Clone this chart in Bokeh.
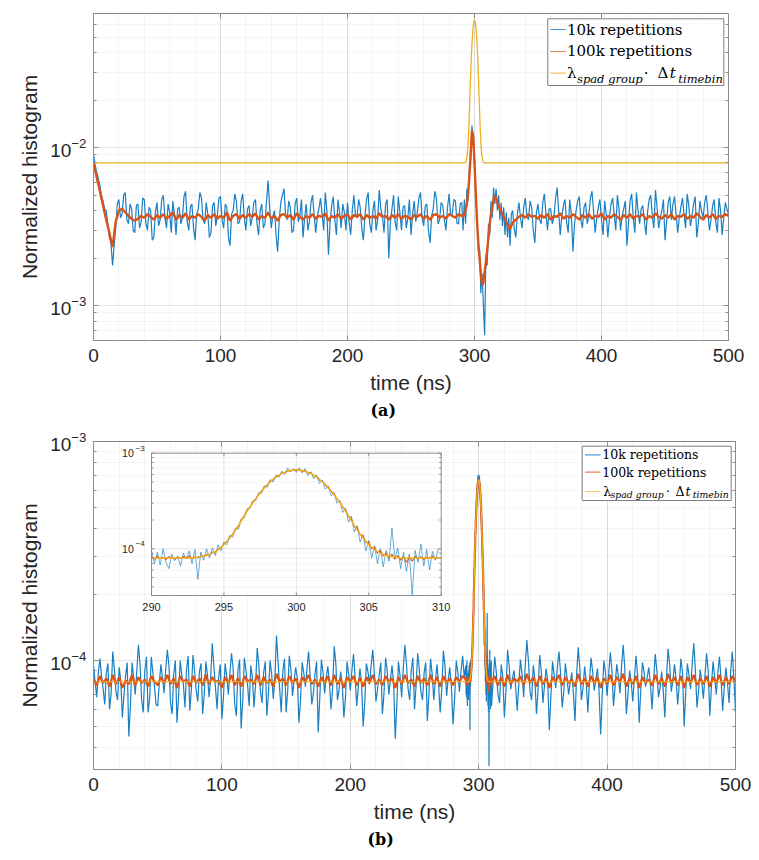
import numpy as np
from bokeh.core.properties import value
from bokeh.embed import file_html
from bokeh.layouts import column
from bokeh.models import (ColumnDataSource, CustomJSTickFormatter, FixedTicker,
                          LinearAxis, LogAxis, LogScale, Range1d)
from bokeh.plotting import figure
from bokeh.resources import INLINE

BLUE, ORANGE, YELLOW = "#0072BD", "#D95319", "#EDB120"
AX = "#8c8c8c"
GRID = "#262626"
TXT = "#262626"

# ---------------- data ----------------
# time bins (ns): coarse away from the pulse at 300 ns, finer around it
t_blue_a = np.concatenate([np.arange(232) * 1.25, 290 + np.arange(40) * 1.0, 330 + np.arange(137) * 1.25])
t_or_a = np.concatenate([np.arange(116) * 2.5, 290 + np.arange(40) * 1.0, 330 + np.arange(69) * 2.5])
t_blue_b = np.concatenate([np.arange(232) * 1.25, 290 + np.arange(100) * 0.2, 310 + np.arange(153) * 1.25])
t_or_b = np.concatenate([np.arange(116) * 2.5, 290 + np.arange(100) * 0.2, 310 + np.arange(77) * 2.5])
t_lam = np.concatenate([[0], 290 + np.arange(41) * 0.5, [500]])

# panel (a), values in units of 1e-4
blue_a_start = [90, 78, 70, 64, 58, 50, 46, 41, 40, 33, 27, 25, 18, 24, 31, 44, 47, 36, 38, 50,
                52, 35, 33, 44, 41, 30, 29, 43, 44, 31, 34, 48, 47, 33, 30, 42, 40, 26, 27, 39,
                45, 32, 35, 47, 50, 36, 31, 44, 39, 29, 46, 38, 28, 41, 42, 33, 36, 49, 53, 34,
                30, 42, 44, 31, 26, 38, 41, 52, 48, 35, 33, 45, 38, 27, 29, 43, 45, 32, 37, 48,
                49, 35, 31, 44, 42, 27, 24, 38, 40, 51, 46, 33, 34, 46, 51, 36, 30, 41, 43, 32,
                36, 45, 47, 33, 28, 40, 44, 31, 33, 46, 62, 41, 31, 37, 40, 28, 22, 35, 45, 50,
                55, 38, 35, 46, 42, 29, 30, 44, 48, 34, 37, 47, 27, 36, 44, 30, 34, 45, 50, 37,
                29, 37, 41, 48, 38, 30, 52, 40, 21, 33, 43, 49, 35, 28, 47, 39, 31, 44, 39, 30,
                45, 34, 28, 40, 50, 38, 36, 47, 42, 31, 26, 37, 47, 52, 33, 29, 40, 46, 30, 35,
                54, 41, 37, 29, 44, 47, 20, 33, 41, 50, 34, 30, 49, 39, 30, 42, 43, 31, 36, 47,
                28, 38, 46, 34, 39, 48, 52, 36, 32, 43, 44, 30, 25, 37, 41, 53, 48, 33, 35, 45,
                43, 35, 30, 42, 51, 37, 38, 47, 46, 33, 33, 44]
blue_a_pulse = [45, 30, 47, 33, 55, 46, 74, 85, 138, 112,
                88, 46, 38, 22, 23, 12, 16, 10, 6.5, 21,
                18, 33, 28, 46, 36, 56, 44, 55, 40, 50,
                35, 45, 32, 42, 28, 39, 27, 36, 24, 38]
blue_a_end = [40, 31, 27, 38, 45, 36, 31, 42, 48, 37, 35, 46, 42, 30, 25, 39, 44, 35, 33, 45,
              51, 38, 30, 41, 41, 33, 36, 47, 56, 40, 28, 37, 43, 47, 34, 29, 47, 38, 22, 33,
              40, 46, 49, 35, 31, 42, 45, 33, 37, 48, 53, 40, 29, 36, 42, 47, 35, 28, 46, 38,
              27, 36, 44, 48, 38, 30, 50, 41, 30, 37, 41, 46, 24, 33, 46, 51, 36, 29, 52, 40,
              33, 41, 43, 35, 28, 39, 47, 50, 37, 31, 54, 42, 31, 36, 40, 47, 26, 34, 45, 49,
              35, 44, 49, 38, 29, 36, 42, 48, 38, 31, 51, 43, 32, 37, 44, 49, 27, 33, 46, 40,
              36, 45, 50, 39, 30, 35, 43, 47, 34, 29, 48, 40, 28, 36, 45, 41, 38]
orange_a_start = [80, 65, 53, 43, 35, 29, 23.5, 34, 40, 41,
                  39, 37, 35.5, 34.5, 35.5, 37, 36, 38, 36.5, 35,
                  37.5, 36, 38, 35.5, 37, 39, 35, 37.5, 36, 38.5,
                  35, 37, 36, 38, 36.5, 34.5, 37.5, 36, 38, 35.5,
                  37, 36, 39, 34.5, 37, 38, 35.5, 37.5, 36, 38,
                  36.5, 38.5, 35, 37, 36, 39, 35.5, 37, 34.5, 37.5,
                  38, 36, 37.5, 35, 38.5, 36.5, 35, 37, 36, 38,
                  35.5, 37, 36.5, 38.5, 34.5, 37, 36, 38, 35.5, 37,
                  38, 35, 37.5, 36.5, 38, 35, 37.5, 36, 37, 35.5,
                  38.5, 36.5, 37, 35, 37.5, 36, 38, 35.5, 37, 36.5,
                  35, 37.5, 36.5, 38, 35.5, 37, 35, 37.5, 38, 36,
                  37, 35.5, 38, 37, 36, 38]
orange_a_pulse = [37, 36.5, 38, 40, 44, 52, 66, 92, 128, 118,
                  80, 52, 34, 25, 20, 16, 13.5, 14, 16.5, 19,
                  22.5, 27, 33, 38, 42, 47, 50, 48, 45, 42.5,
                  41, 39.5, 38, 36.5, 35, 34, 32.5, 31, 30.5, 32]
orange_a_end = [33.5, 35, 36.5, 37.5, 36, 38, 36.5, 37, 35.5, 37.5,
                36, 38, 35, 37, 36.5, 38.5, 35.5, 37, 36, 38,
                36.5, 35, 37.5, 36, 38, 35.5, 37, 36.5, 38.5, 35,
                37, 36, 38, 36.5, 35, 37.5, 36, 38, 35.5, 37,
                36.5, 38, 35, 37, 36, 38.5, 36.5, 35.5, 37.5, 36,
                38, 35, 37, 36.5, 38, 35.5, 37, 36, 38.5, 36.5,
                35, 37.5, 36, 38, 35.5, 37, 36.5, 38, 37]
lam_a = [80,
         80, 80, 80, 80, 80, 80,
         81, 83, 87, 94, 108, 132, 170, 225, 295, 370, 450, 525, 590, 628,
         640,
         628, 590, 525, 450, 370, 295, 225, 170, 132, 108, 94, 87, 83, 81,
         80, 80, 80, 80, 80, 80,
         80]

# panel (b), values in units of 1e-6
blue_b_start = [95, 80, 68, 88, 102, 85, 74, 63, 88, 97, 60, 71, 110, 92, 72, 66, 93, 81, 55, 70,
                85, 98, 45, 62, 98, 84, 70, 90, 118, 96, 66, 58, 90, 104, 58, 67, 104, 88, 76, 63,
                62, 79, 96, 83, 71, 92, 112, 95, 64, 57, 87, 100, 52, 68, 100, 86, 78, 61, 92, 105,
                59, 74, 106, 89, 73, 65, 89, 97, 57, 70, 99, 86, 68, 83, 120, 94, 75, 60, 84, 96,
                54, 69, 97, 85, 70, 88, 108, 92, 63, 56, 91, 101, 49, 66, 103, 90, 77, 62, 95, 84,
                61, 78, 114, 96, 72, 64, 88, 99, 56, 71, 100, 87, 67, 82, 130, 99, 74, 58, 90, 102,
                58, 73, 105, 91, 69, 81, 93, 83, 52, 66, 98, 88, 76, 92, 110, 85, 63, 71, 87, 99,
                47, 68, 101, 88, 71, 84, 94, 79, 60, 75, 116, 97, 66, 73, 89, 77, 55, 68, 99, 86,
                73, 90, 107, 84, 62, 76, 92, 80, 50, 64, 97, 89, 78, 95, 112, 87, 65, 74, 86, 98,
                57, 71, 103, 90, 70, 82, 95, 79, 44, 63, 99, 85, 68, 92, 118, 96, 74, 66, 91, 103,
                60, 77, 108, 91, 72, 66, 88, 98, 53, 70, 102, 87, 66, 80, 96, 78, 58, 74, 111, 94,
                69, 82, 93, 75, 51, 67, 100, 88, 72, 90, 105, 84]
blue_b_pulse = [95, 70, 92, 68, 100, 72, 62, 88, 75, 84,
                66, 90, 78, 95, 70, 98, 48, 92, 76, 100,
                80, 102, 85, 110, 96, 118, 110, 138, 132, 162,
                160, 205, 210, 262, 265, 318, 322, 385, 380, 455,
                440, 530, 500, 590, 560, 650, 600, 700, 640, 690,
                630, 705, 620, 690, 580, 640, 540, 590, 480, 520,
                420, 455, 360, 385, 300, 320, 240, 265, 190, 220,
                150, 175, 118, 140, 95, 122, 80, 108, 70, 100,
                65, 96, 74, 165, 78, 102, 62, 92, 58, 88,
                33, 96, 72, 112, 66, 98, 60, 94, 76, 100]
blue_b_end = [62, 81, 104, 88, 70, 64, 96, 85, 55, 73, 112, 94, 74, 83, 90, 76, 59, 78, 101, 87,
              68, 95, 124, 99, 72, 66, 95, 82, 57, 74, 106, 90, 64, 77, 92, 81, 48, 69, 99, 86,
              75, 93, 110, 88, 61, 72, 97, 84, 70, 79, 88, 71, 53, 86, 115, 92, 66, 75, 94, 80,
              58, 80, 103, 89, 73, 82, 92, 72, 46, 71, 100, 88, 69, 87, 109, 90, 62, 77, 96, 85,
              71, 94, 118, 93, 57, 70, 90, 80, 65, 83, 105, 86, 52, 74, 98, 89, 76, 84, 93, 78,
              60, 82, 107, 90, 68, 75, 89, 73, 55, 84, 113, 95, 72, 81, 96, 82, 63, 79, 102, 88,
              50, 72, 97, 86, 74, 96, 120, 91, 61, 73, 91, 80, 67, 86, 108, 89, 56, 76, 99, 85,
              70, 88, 104, 82, 59, 75, 93, 79, 64, 89, 110, 83, 58]
orange_b_start = [82, 77, 85, 79, 83, 76, 86, 78, 84, 75,
                  81, 78, 86, 77, 84, 79, 82, 76, 85, 80,
                  77, 84, 79, 86, 78, 83, 75, 85, 80, 82,
                  76, 85, 79, 83, 77, 86, 78, 84, 80, 81,
                  75, 84, 79, 86, 77, 83, 76, 85, 80, 82,
                  78, 86, 77, 84, 79, 82, 76, 87, 80, 83,
                  77, 85, 79, 83, 75, 84, 80, 86, 78, 82,
                  76, 84, 79, 85, 77, 86, 78, 83, 75, 84,
                  80, 85, 77, 83, 76, 84, 79, 86, 78, 82,
                  77, 85, 80, 83, 75, 84, 78, 86, 79, 82,
                  76, 85, 79, 83, 77, 86, 78, 84, 76, 85,
                  79, 83, 77, 84, 80, 85]
orange_b_pulse = [82, 78, 84, 79, 81, 77, 83, 80, 78, 82,
                  79, 83, 80, 84, 79, 82, 80, 84, 83, 87,
                  86, 92, 92, 99, 103, 112, 118, 132, 141, 162,
                  172, 203, 220, 254, 272, 312, 332, 376, 396, 445,
                  462, 510, 528, 572, 582, 625, 625, 655, 650, 672,
                  660, 672, 648, 655, 622, 625, 580, 572, 525, 510,
                  462, 445, 395, 378, 330, 312, 272, 255, 218, 205,
                  170, 165, 140, 138, 116, 118, 100, 104, 90, 96,
                  84, 90, 80, 88, 78, 85, 76, 83, 72, 82,
                  74, 84, 78, 83, 77, 82, 79, 84, 78, 82]
orange_b_end = [79, 85, 77, 84, 76, 86, 78, 83, 80, 85,
                77, 87, 79, 84, 76, 85, 78, 83, 75, 84,
                80, 86, 77, 84, 79, 82, 76, 87, 78, 83,
                76, 85, 79, 84, 75, 83, 78, 86, 77, 84,
                80, 87, 76, 83, 78, 85, 75, 84, 79, 82,
                77, 86, 78, 83, 76, 87, 79, 84, 77, 85,
                75, 84, 79, 86, 77, 83, 78, 85, 76, 84,
                79, 86, 77, 84, 78, 85, 80]
lam_b = [80,
         80, 80, 80, 80, 80, 80,
         81, 83, 87, 95, 110, 135, 175, 235, 305, 385, 470, 550, 615, 655,
         670,
         655, 615, 550, 470, 385, 305, 235, 175, 135, 110, 95, 87, 83, 81,
         80, 80, 80, 80, 80, 80,
         80]

legend_labels = ["10k repetitions", "100k repetitions"]
x_major = [0, 100, 200, 300, 400, 500]
x_minor = list(range(0, 501, 20))
y_minor_all = [k * 10.0 ** e for e in range(-6, 0) for k in range(2, 10)]

blue_a_src = ColumnDataSource(dict(t=t_blue_a, y=np.array(blue_a_start + blue_a_pulse + blue_a_end) * 1e-4))
or_a_src = ColumnDataSource(dict(t=t_or_a, y=np.array(orange_a_start + orange_a_pulse + orange_a_end) * 1e-4))
blue_b_y = np.array(blue_b_start + blue_b_pulse + blue_b_end) * 1e-6
or_b_y = np.array(orange_b_start + orange_b_pulse + orange_b_end) * 1e-6
blue_b_src = ColumnDataSource(dict(t=t_blue_b, y=blue_b_y))
or_b_src = ColumnDataSource(dict(t=t_or_b, y=or_b_y))
lam_a_v = np.array(lam_a) * 1e-4
lam_b_v = np.array(lam_b) * 1e-6

XR = (0, 500)
YA = (6.03e-4, 7.05e-2)
YB = (3.18e-5, 1.0005e-3)


def style(p, ymajor, caption_offset):
    p.outline_line_color = AX
    p.outline_line_width = 1
    xt = FixedTicker(ticks=x_major, minor_ticks=x_minor)
    yt = FixedTicker(ticks=ymajor, minor_ticks=y_minor_all)
    xa, ya = p.xaxis[0], p.yaxis[0]
    xa.ticker = xt
    ya.ticker = yt
    p.xgrid.ticker = xt
    p.ygrid.ticker = yt
    for ax in (xa, ya):
        ax.axis_line_color = AX
        ax.major_tick_line_color = AX
        ax.minor_tick_line_color = AX
        ax.major_tick_in, ax.major_tick_out = 5, 0
        ax.minor_tick_in, ax.minor_tick_out = 3, 0
        ax.major_label_text_font = "Liberation Sans"
        ax.major_label_text_font_size = "19px"
        ax.major_label_text_color = TXT
        ax.axis_label_text_font = "Liberation Sans"
        ax.axis_label_text_font_size = "21px"
        ax.axis_label_text_font_style = "normal"
        ax.axis_label_text_color = TXT
    xa.minor_tick_in = 0
    xa.major_label_standoff = 8
    xa.axis_label_standoff = 6
    ya.major_label_standoff = 7
    ya.axis_label_standoff = 6
    for g in (p.xgrid, p.ygrid):
        g.grid_line_color = GRID
        g.grid_line_alpha = 0.12
        g.minor_grid_line_color = GRID
        g.minor_grid_line_alpha = 0.05
    blank = CustomJSTickFormatter(code="return ''")
    top = LinearAxis(ticker=xt, formatter=blank, major_label_text_font_size="1px",
                     major_label_standoff=0, axis_line_color=None,
                     major_tick_in=5, major_tick_out=0, minor_tick_in=0, minor_tick_out=0,
                     major_tick_line_color=AX)
    right = LogAxis(ticker=yt, formatter=blank, major_label_text_font_size="1px",
                    major_label_standoff=0, axis_line_color=None,
                    major_tick_in=5, major_tick_out=0, minor_tick_in=3, minor_tick_out=0,
                    major_tick_line_color=AX, minor_tick_line_color=AX)
    p.add_layout(top, "above")
    p.add_layout(right, "right")
    p.title.text_font = "DejaVu Serif"
    p.title.text_font_size = "16px"
    p.title.text_font_style = "bold"
    p.title.text_color = "black"
    p.title.align = "left"
    p.title.offset = caption_offset
    if "standoff" in p.title.properties():
        p.title.standoff = 5


def fx(f):
    return XR[0] + f * (XR[1] - XR[0])


def fy(yr, f):
    lo, hi = np.log10(yr[0]), np.log10(yr[1])
    return 10 ** (lo + f * (hi - lo))


def legend(p, yr, box, rows, seg, tx, fs, sub_fs, pieces):
    l, r, b, t = box
    p.quad(left=[fx(l)], right=[fx(r)], bottom=[fy(yr, b)], top=[fy(yr, t)],
           fill_color="white", line_color="#7f7f7f", line_width=1)
    for c, ry in zip([BLUE, ORANGE, YELLOW], rows):
        p.line([fx(seg[0]), fx(seg[1])], [fy(yr, ry), fy(yr, ry)], color=c,
               line_width=1.2, line_alpha=0.7)
    p.text(x=[fx(tx), fx(tx)], y=[fy(yr, rows[0]), fy(yr, rows[1])], text=legend_labels,
           text_font=value("DejaVu Serif"), text_font_size=fs, text_color="black",
           text_align="left", text_baseline="middle")
    for txt, px, py, sub, italic in pieces:
        p.text(x=[fx(px)], y=[fy(yr, py)], text=[txt], text_font=value("DejaVu Serif"),
               text_font_size=sub_fs if sub else fs, text_color="black",
               text_font_style="italic" if italic else "normal",
               text_align="left", text_baseline="middle")


# ---------------- panel (a) ----------------
pa = figure(width=745, height=430, x_range=XR, y_range=YA, y_axis_type="log",
            title="(a)", title_location="below",
            x_axis_label="time (ns)", y_axis_label="Normalized histogram",
            output_backend="svg", toolbar_location=None,
            min_border_left=91, min_border_right=17, min_border_top=13, min_border_bottom=90)
style(pa, [1e-3, 1e-2], 277)

pa.line("t", "y", source=blue_a_src, color=BLUE, line_width=1.2, line_alpha=0.9)
pa.line("t", "y", source=or_a_src, color=ORANGE, line_width=2.4)
pa.line(t_lam, lam_a_v, color=YELLOW, line_width=1.3)

ra, sa = 0.8174, 0.8003
legend(pa, YA, (0.7154, 0.9926, 0.7798, 0.9838), [0.951, 0.8838, ra], (0.719, 0.744),
       0.7457, "15px", "11.5px",
       [("λ", 0.7457, ra, False, False), ("spad group", 0.7614, sa, True, True),
        ("·", 0.8666, ra, False, False), ("Δ", 0.888, ra, False, False),
        ("t", 0.9074, ra, False, True), ("timebin", 0.921, sa, True, True)])

# ---------------- panel (b) ----------------
pb = figure(width=752, height=429, x_range=XR, y_range=YB, y_axis_type="log",
            title="(b)", title_location="below",
            x_axis_label="time (ns)", y_axis_label="Normalized histogram",
            output_backend="svg", toolbar_location=None,
            min_border_left=93, min_border_right=17, min_border_top=11, min_border_bottom=90)
style(pb, [1e-4, 1e-3], 274)

pb.line("t", "y", source=blue_b_src, color=BLUE, line_width=1.2, line_alpha=0.9)
pb.line("t", "y", source=or_b_src, color=ORANGE, line_width=2.2)
pb.line(t_lam, lam_b_v, color=YELLOW, line_width=1.2)

rb, sb = 0.8476, 0.8384
legend(pb, YB, (0.7612, 0.9933, 0.8201, 0.9857), [0.9595, 0.9064, rb], (0.7657, 0.7897),
       0.7924, "12.5px", "9.3px",
       [("λ", 0.7939, rb, False, False), ("spad group", 0.8053, sb, True, True),
        ("·", 0.8917, rb, False, False), ("Δ", 0.9065, rb, False, False),
        ("t", 0.9221, rb, False, True), ("timebin", 0.9335, sb, True, True)])

# ---------------- inset in (b): 290-310 ns ----------------
FB_W, FB_H = 642, 328                      # frame size of panel (b), px
IL, IR, IT, IB = 58, 347.7, 11.7, 154      # inset box inside that frame, px
IX = (290, 310)
IY = (3.246e-5, 1e-3)
sx = (IR - IL) / (IX[1] - IX[0])
sy = (IB - IT) / (np.log10(IY[1]) - np.log10(IY[0]))
pb.extra_x_ranges = {"ix": Range1d(IX[0] - IL / sx, IX[1] + (FB_W - IR) / sx)}
pb.extra_y_ranges = {"iy": Range1d(10 ** (np.log10(IY[0]) - (FB_H - IB) / sy),
                                   10 ** (np.log10(IY[1]) + IT / sy))}
pb.extra_y_scales = {"iy": LogScale()}
kw = dict(x_range_name="ix", y_range_name="iy")


def ipx(dx):
    return IX[0] + (dx - IL) / sx


def ipy(dy):
    return 10 ** (np.log10(IY[1]) - (dy - IT) / sy)


ix_major = [290, 295, 300, 305, 310]
iy_major = [1e-4, 1e-3]
iy_minor = [v for v in y_minor_all if IY[0] < v < IY[1]]

pb.quad(left=[IX[0]], right=[IX[1]], bottom=[IY[0]], top=[IY[1]],
        fill_color="white", line_color=None, **kw)
pb.segment(x0=ix_major[1:-1], x1=ix_major[1:-1], y0=IY[0], y1=IY[1],
           color=GRID, alpha=0.12, line_width=1, **kw)
pb.segment(x0=IX[0], x1=IX[1], y0=iy_major[:1], y1=iy_major[:1],
           color=GRID, alpha=0.12, line_width=1, **kw)
pb.segment(x0=IX[0], x1=IX[1], y0=iy_minor, y1=iy_minor,
           color=GRID, alpha=0.05, line_width=1, **kw)

mb = (t_blue_b >= IX[0]) & (t_blue_b < IX[1])
mo = (t_or_b >= IX[0]) & (t_or_b < IX[1])
ml = (t_lam >= IX[0]) & (t_lam <= IX[1])
pb.line(t_blue_b[mb], blue_b_y[mb], color=BLUE, line_width=0.9, line_alpha=0.65, **kw)
pb.line(t_or_b[mo], or_b_y[mo], color=ORANGE, line_width=1.1, **kw)
pb.line(t_lam[ml], lam_b_v[ml], color=YELLOW, line_width=1.5, **kw)

# inset ticks (inward) and box
up = 10 ** (3 / sy)
pb.segment(x0=ix_major, x1=ix_major, y0=IY[0], y1=IY[0] * up, color=AX, **kw)
pb.segment(x0=ix_major, x1=ix_major, y0=IY[1], y1=IY[1] / up, color=AX, **kw)
pb.segment(x0=IX[0], x1=IX[0] + 3 / sx, y0=iy_major, y1=iy_major, color=AX, **kw)
pb.segment(x0=IX[1], x1=IX[1] - 3 / sx, y0=iy_major, y1=iy_major, color=AX, **kw)
pb.segment(x0=IX[0], x1=IX[0] + 2 / sx, y0=iy_minor, y1=iy_minor, color=AX, **kw)
pb.segment(x0=IX[1], x1=IX[1] - 2 / sx, y0=iy_minor, y1=iy_minor, color=AX, **kw)
pb.quad(left=[IX[0]], right=[IX[1]], bottom=[IY[0]], top=[IY[1]],
        fill_color=None, line_color=AX, line_width=1, **kw)

pb.text(x=ix_major, y=[ipy(165.7)] * len(ix_major), text=[str(v) for v in ix_major],
        text_font=value("Liberation Sans"), text_font_size="11px", text_color=TXT,
        text_align="center", text_baseline="middle", **kw)
pb.text(x=[ipx(40.3)] * 2, y=iy_major, text=["10", "10"],
        text_font=value("Liberation Sans"), text_font_size="10.5px", text_color=TXT,
        text_align="right", text_baseline="middle", **kw)
pb.text(x=[ipx(42)] * 2, y=[v * 10 ** (5 / sy) for v in iy_major], text=["−4", "−3"],
        text_font=value("Liberation Sans"), text_font_size="8px", text_color=TXT,
        text_align="left", text_baseline="middle", **kw)

layout = column(pa, pb, spacing=0)
open("out.html", "w").write(file_html(layout, INLINE))
